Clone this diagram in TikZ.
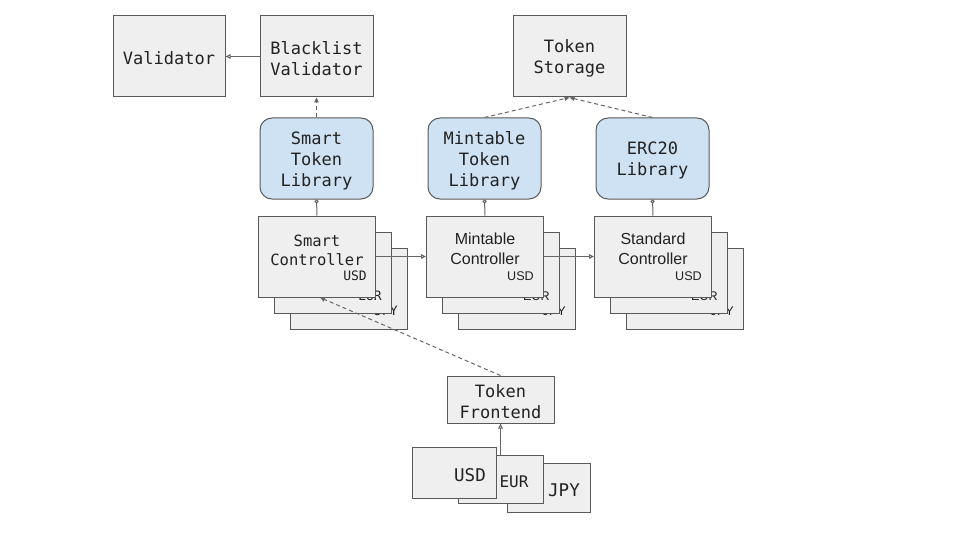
\documentclass[tikz,border=0pt]{standalone}
\usepackage{fontspec}
\setmonofont{DejaVu Sans Mono}
\setsansfont{Liberation Sans}
\usetikzlibrary{arrows.meta}

\definecolor{boxfill}{HTML}{EFEFEF}
\definecolor{boxline}{HTML}{595959}
\definecolor{libfill}{HTML}{CFE2F3}
\definecolor{linkcol}{HTML}{666666}
\definecolor{textcol}{HTML}{222222}

\tikzset{
  box/.style={draw=boxline, fill=boxfill, line width=1pt, inner sep=0pt, text=textcol},
  plain/.style={box, minimum width=113pt, minimum height=81pt},
  lib/.style={box, fill=libfill, rounded corners=12pt, minimum width=113pt, minimum height=81pt},
  ctrl/.style={box, minimum width=117pt, minimum height=81pt},
  mono/.style={font=\ttfamily\fontsize{17}{21}\selectfont, align=center, text=textcol, yshift=-2pt},
  monosmall/.style={font=\ttfamily\fontsize{15.5}{19}\selectfont, align=center, text=textcol},
  arial/.style={font=\sffamily\fontsize{16}{20.5}\selectfont, align=center, text=textcol},
  monotag/.style={font=\ttfamily\fontsize{13}{15}\selectfont, text=textcol, inner sep=0pt, anchor=east},
  arialtag/.style={font=\sffamily\fontsize{12.6}{15}\selectfont, text=textcol, inner sep=0pt, anchor=east},
  link/.style={draw=linkcol, line width=1pt, -{Triangle[open, length=5pt, width=4.5pt]}},
  dep/.style={draw=linkcol, line width=1pt, dash pattern=on 4pt off 3pt, -{Triangle[length=5pt, width=4.5pt]}},
  use/.style={draw=linkcol, line width=1pt, -{Circle[open, length=4pt]}}
}

\begin{document}
\begin{tikzpicture}[x=1pt, y=-1pt]
    \useasboundingbox (0, 0) rectangle (960, 540);

    % top row
    \node [plain, minimum width=112pt] (validator) at (169, 56.5) {};
    \node [mono] (validatortext) at (169, 56.5) {Validator};
    \node [plain] (blacklist) at (316.5, 56.5) {};
    \node [mono] (blacklisttext) at (316.5, 56.5) {Blacklist\\Validator};
    \node [plain] (storage) at (569.5, 56.5) {};
    \node [mono] (storagetext) at (569.5, 56.5) {Token\\Storage};

    % libraries
    \node [lib] (smartlib) at (316.5, 158.5) {};
    \node [mono] (smartlibtext) at (316.5, 158.5) {Smart\\Token\\Library};
    \node [lib] (mintlib) at (484.5, 158.5) {};
    \node [mono] (mintlibtext) at (484.5, 158.5) {Mintable\\Token\\Library};
    \node [lib] (erclib) at (652.5, 158.5) {};
    \node [mono] (erclibtext) at (652.5, 158.5) {ERC20\\Library};

    % smart controller stack
    \node [ctrl] (smartjpy) at (349, 288.5) {};
    \node [monotag] (smartjpytag) at (398, 311) {JPY};
    \node [ctrl] (smarteur) at (333, 272.5) {};
    \node [monotag] (smarteurtag) at (382, 296) {EUR};
    \node [ctrl] (smartctrl) at (317, 256.5) {};
    \node [monosmall] (smartname) at (317, 250) {Smart\\Controller};
    \node [monotag] (smartusdtag) at (367, 276) {USD};

    % mintable controller stack
    \node [ctrl] (mintjpy) at (517, 288.5) {};
    \node [arialtag] (mintjpytag) at (566, 311) {JPY};
    \node [ctrl] (minteur) at (501, 272.5) {};
    \node [arialtag] (minteurtag) at (550, 296) {EUR};
    \node [ctrl] (mintctrl) at (485, 256.5) {};
    \node [arial] (mintname) at (485, 249) {Mintable\\Controller};
    \node [arialtag] (mintusdtag) at (534, 276) {USD};

    % standard controller stack
    \node [ctrl] (stdjpy) at (685, 288.5) {};
    \node [arialtag] (stdjpytag) at (734, 311) {JPY};
    \node [ctrl] (stdeur) at (669, 272.5) {};
    \node [arialtag] (stdeurtag) at (718, 296) {EUR};
    \node [ctrl] (stdctrl) at (653, 256.5) {};
    \node [arial] (stdname) at (653, 249) {Standard\\Controller};
    \node [arialtag] (stdusdtag) at (702, 276) {USD};

    % frontend and currencies
    \node [box, minimum width=107pt, minimum height=47pt] (frontend) at (500.5, 399.5) {};
    \node [mono] (frontendtext) at (500.5, 399.5) {Token\\Frontend};
    \node [box, minimum width=83pt, minimum height=49pt] (jpy) at (548.5, 487.5) {};
    \node [mono, font=\ttfamily\fontsize{17.5}{21}\selectfont] (jpytext) at (564, 488) {JPY};
    \node [box, minimum width=85pt, minimum height=48pt] (eur) at (500.5, 479) {};
    \node [mono, font=\ttfamily\fontsize{16}{20}\selectfont] (eurtext) at (514, 480) {EUR};
    \node [box, minimum width=84pt, minimum height=51pt] (usd) at (454, 472.5) {};
    \node [mono, font=\ttfamily\fontsize{17.5}{21}\selectfont] (usdtext) at (470, 473) {USD};

    % connectors
    \draw [link] (blacklist.west) -- (validator.east);
    \draw [dep] (smartlib.north) -- (blacklist.south);
    \draw [dep] (mintlib.north) -- (storage.south);
    \draw [dep] (erclib.north) -- (storage.south);
    \draw [use] (smartctrl.north) -- (smartlib.south);
    \draw [use] (mintctrl.north) -- (mintlib.south);
    \draw [use] (stdctrl.north) -- (erclib.south);
    \draw [link] (smartctrl.east) -- (mintctrl.west);
    \draw [link] (mintctrl.east) -- (stdctrl.west);
    \draw [dep] (frontend.north) -- ([xshift=3pt]smartctrl.south);
    \draw [link] (eur.north) -- (frontend.south);
\end{tikzpicture}
\end{document}
